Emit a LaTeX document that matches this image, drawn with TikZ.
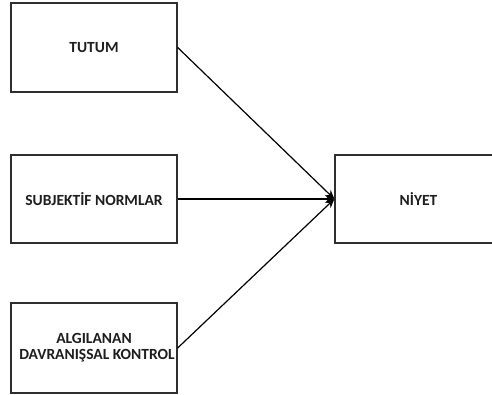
\documentclass[tikz,border=0pt]{standalone}
\usepackage{fontspec}
\setmainfont{Carlito}
\usetikzlibrary{arrows.meta,shadows}
\definecolor{boxline}{HTML}{2E2E2E}
\definecolor{txt}{HTML}{1E1E1E}
\tikzset{
  box/.style={draw=boxline, line width=1.3pt, fill=white, minimum width=166pt, inner sep=0pt,
    align=center, font=\fontsize{15.5}{16.5}\selectfont\bfseries, text=txt,
    drop shadow={shadow xshift=1.2pt, shadow yshift=-1.2pt, fill=black!18, opacity=0.6}},
  conn/.style={draw=black, line width=1.2pt, -{Stealth[length=9pt,width=8pt]}}
}
\begin{document}
\begin{tikzpicture}[x=1pt,y=-1pt]
\useasboundingbox (0,0) rectangle (492,395);
\clip (0,0) rectangle (492,395);
\fill[white] (0,0) rectangle (492,395);
\node[box, minimum height=89pt] (tutum) at (94,47.5) {TUTUM};
\node[box, minimum height=88pt] (subj) at (94,199) {SUBJEKTİF NORMLAR};
\node[box, minimum height=90pt] (alg) at (94,348) {ALGILANAN\\[-0.5pt]\hspace*{6pt}DAVRANIŞSAL KONTROL};
\node[box, minimum width=172pt, minimum height=88pt, text width=172pt] (niyet) at (421,199) {\hspace*{-5pt}NİYET};
\draw[conn] (tutum.east) -- (niyet.west);
\draw[conn] (subj.east) -- (niyet.west);
\draw[conn] (alg.east) -- (niyet.west);
\end{tikzpicture}
\end{document}
